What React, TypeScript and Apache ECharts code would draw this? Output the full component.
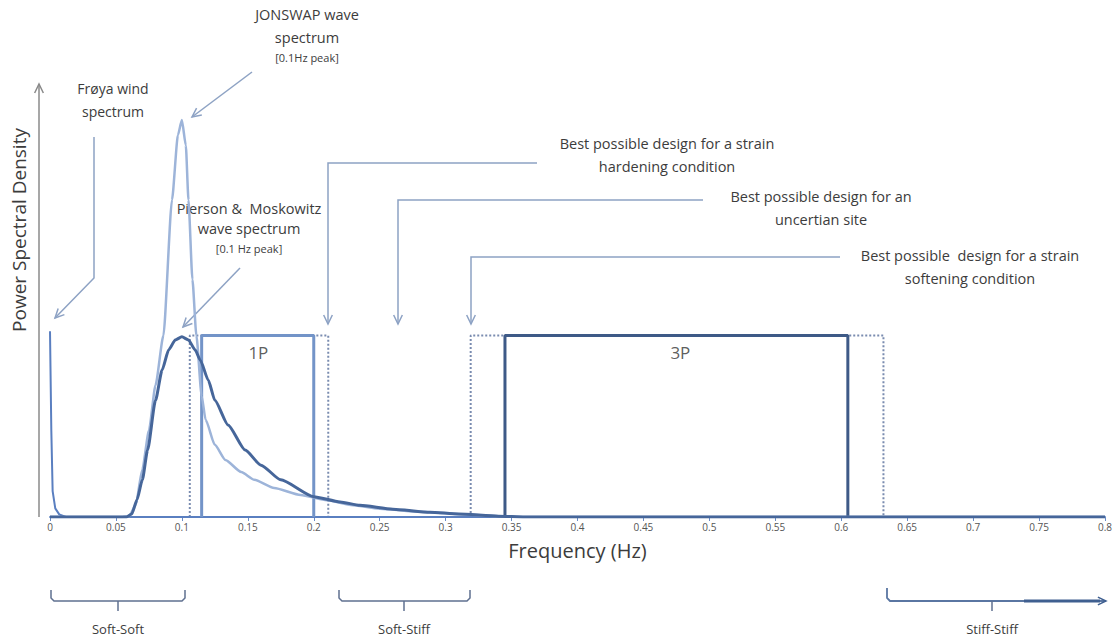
import React, { useEffect, useRef } from "react";
import * as echarts from "echarts";

// ---- data (frequency in Hz, PSD in arbitrary normalised units) ----
const froyaWind: [number, number][] = [
  [0, 0.43], [0.001, 0.2], [0.002, 0.06], [0.004, 0.02], [0.007, 0.006], [0.012, 0], [0.8, 0],
];
const jonswap: [number, number][] = [
  [0, 0], [0.055, 0], [0.06, 0.002], [0.065, 0.028], [0.07, 0.11], [0.075, 0.2], [0.08, 0.305],
  [0.086, 0.42], [0.0925, 0.734], [0.097, 0.884], [0.1, 0.919], [0.103, 0.86], [0.105, 0.734],
  [0.108, 0.55], [0.111, 0.42], [0.115, 0.28], [0.118, 0.225], [0.125, 0.167], [0.133, 0.132],
  [0.145, 0.104], [0.155, 0.086], [0.17, 0.067], [0.19, 0.051], [0.21, 0.039], [0.228, 0.028],
  [0.25, 0.019], [0.28, 0.012], [0.32, 0.005], [0.34, 0.002], [0.36, 0], [0.8, 0],
];
const piersonMoskowitz: [number, number][] = [
  [0, 0], [0.058, 0], [0.062, 0.007], [0.066, 0.04], [0.07, 0.086], [0.074, 0.155], [0.08, 0.27],
  [0.085, 0.34], [0.09, 0.387], [0.095, 0.41], [0.1, 0.417], [0.105, 0.41], [0.11, 0.387],
  [0.114, 0.363], [0.12, 0.317], [0.125, 0.27], [0.135, 0.213], [0.148, 0.155], [0.16, 0.12],
  [0.175, 0.086], [0.2, 0.047], [0.22, 0.035], [0.235, 0.027], [0.26, 0.018], [0.288, 0.011],
  [0.31, 0.007], [0.34, 0.002], [0.36, 0], [0.8, 0],
];
const box1P: [number, number][] = [[0.115, 0], [0.115, 0.42], [0.2, 0.42], [0.2, 0]];
const box1PRange: [number, number][] = [[0.106, 0], [0.106, 0.42], [0.211, 0.42], [0.211, 0]];
const box3P: [number, number][] = [[0.345, 0], [0.345, 0.42], [0.605, 0.42], [0.605, 0]];
const box3PRange: [number, number][] = [[0.319, 0], [0.319, 0.42], [0.632, 0.42], [0.632, 0]];
const bandLabels: { name: string; at: [number, number] }[] = [
  { name: "1P", at: [0.158, 0.38] },
  { name: "3P", at: [0.478, 0.38] },
];

const FONT = "'Open Sans', Lato, sans-serif";
const TXT = "#3c3c3c";
const ARW = "#8da2c4";

function head(x1: number, y1: number, x2: number, y2: number, color: string, len = 10) {
  const a = Math.atan2(y2 - y1, x2 - x1);
  const s = 0.45;
  const p1 = [x2 - len * Math.cos(a - s), y2 - len * Math.sin(a - s)];
  const p2 = [x2 - len * Math.cos(a + s), y2 - len * Math.sin(a + s)];
  return {
    type: "polyline",
    shape: { points: [p1, [x2, y2], p2] },
    style: { stroke: color, lineWidth: 1.5, fill: null },
    silent: true,
  };
}
function arrowPath(pts: number[][], color: string, lw = 1.5) {
  const n = pts.length;
  return [
    { type: "polyline", shape: { points: pts }, style: { stroke: color, lineWidth: lw, fill: null }, silent: true },
    head(pts[n - 2][0], pts[n - 2][1], pts[n - 1][0], pts[n - 1][1], color),
  ];
}
function txt(s: string, x: number, y: number, size: number, color = TXT, rot = 0) {
  return {
    type: "text",
    x,
    y,
    rotation: rot,
    silent: true,
    style: {
      text: s,
      fill: color,
      fontSize: size,
      fontFamily: FONT,
      textAlign: "center",
      textVerticalAlign: "middle",
      align: "center",
      verticalAlign: "middle",
    },
  };
}
function bracket(x1: number, x2: number, xc: number, color: string) {
  return [
    {
      type: "polyline",
      shape: { points: [[x1, 590], [x1, 598], [x1 + 3, 601], [x2 - 3, 601], [x2, 598], [x2, 590]] },
      style: { stroke: color, lineWidth: 1.5, fill: null },
      silent: true,
    },
    { type: "line", shape: { x1: xc, y1: 601, x2: xc, y2: 611 }, style: { stroke: color, lineWidth: 1.5 }, silent: true },
  ];
}

export default function App() {
  const ref = useRef<HTMLDivElement>(null);
  useEffect(() => {
    if (!ref.current) return;
    const chart = echarts.init(ref.current, undefined, { renderer: "svg" });
    const bc = "#5f7090";
    const graphics: any[] = [
      // y axis arrow
      ...arrowPath([[39, 517], [39, 84]], "#8a8a8a", 1.5),
      txt("Power Spectral Density", 19, 230, 19, "#3c3c3c", Math.PI / 2),
      // Frøya
      txt("Frøya wind", 113, 88, 14),
      txt("spectrum", 113, 111, 14),
      ...arrowPath([[94, 137], [94, 278], [55, 318]], ARW),
      // JONSWAP
      txt("JONSWAP wave", 307, 14, 14.5),
      txt("spectrum", 307, 37, 14.5),
      txt("[0.1Hz peak]", 307, 57, 11),
      ...arrowPath([[252, 72], [192, 117]], ARW),
      // Pierson-Moskowitz
      txt("Pierson &  Moskowitz", 249, 208, 14.5),
      txt("wave spectrum", 249, 228, 14.5),
      txt("[0.1 Hz peak]", 249, 248, 11),
      ...arrowPath([[240, 268], [183, 327]], ARW),
      // design arrows
      ...arrowPath([[537, 163], [328, 163], [328, 324]], ARW),
      ...arrowPath([[703, 200], [398, 200], [398, 324]], ARW),
      ...arrowPath([[840, 257], [471, 257], [471, 324]], ARW),
      txt("Best possible design for a strain", 667, 143, 14.5),
      txt("hardening condition", 667, 166, 14.5),
      txt("Best possible design for an", 821, 196, 14.5),
      txt("uncertian site", 821, 219, 14.5),
      txt("Best possible  design for a strain", 970, 255, 14.5),
      txt("softening condition", 970, 278, 14.5),
      // brackets
      ...bracket(51, 185, 118, bc),
      txt("Soft-Soft", 118, 629, 13),
      ...bracket(339, 470, 404, bc),
      txt("Soft-Stiff", 404, 629, 13),
      {
        type: "polyline",
        shape: { points: [[887, 588], [887, 598], [890, 601], [1106, 601]] },
        style: { stroke: "#5a76a2", lineWidth: 1.8, fill: null },
        silent: true,
      },
      { type: "line", shape: { x1: 1024, y1: 601, x2: 1100, y2: 601 }, style: { stroke: "#3f5f90", lineWidth: 3 }, silent: true },
      head(1090, 601, 1106, 601, "#3f5f90", 9),
      { type: "line", shape: { x1: 992, y1: 601, x2: 992, y2: 611 }, style: { stroke: bc, lineWidth: 1.5 }, silent: true },
      txt("Stiff-Stiff", 992, 629, 13),
    ];

    chart.setOption({
      animation: false,
      backgroundColor: "#ffffff",
      grid: { left: 50, right: 13, top: 85, bottom: 123 },
      xAxis: {
        type: "value",
        min: 0,
        max: 0.8,
        interval: 0.05,
        name: "Frequency (Hz)",
        nameLocation: "middle",
        nameGap: 23,
        nameTextStyle: { fontSize: 20, color: "#3c3c3c", fontFamily: FONT },
        axisLine: { show: true, lineStyle: { color: "#6a8cc6", width: 2 } },
        axisTick: { show: true, length: 4, lineStyle: { color: "#6a8cc6", width: 1 } },
        axisLabel: {
          fontSize: 10,
          color: "#555555",
          fontFamily: FONT,
          margin: 5,
          formatter: (v: number) => String(+v.toFixed(2)),
        },
        splitLine: { show: false },
      },
      yAxis: {
        type: "value",
        min: 0,
        max: 1,
        show: false,
        splitLine: { show: false },
      },
      series: [
        {
          name: "Frøya wind spectrum",
          type: "line",
          data: froyaWind,
          showSymbol: false,
          lineStyle: { color: "#5a7fc0", width: 2 },
          z: 3,
        },
        {
          name: "1P range",
          type: "line",
          data: box1PRange,
          showSymbol: false,
          lineStyle: { color: "#7a8cb0", width: 2, type: "dotted" },
          z: 2,
        },
        {
          name: "3P range",
          type: "line",
          data: box3PRange,
          showSymbol: false,
          lineStyle: { color: "#7a8cb0", width: 2, type: "dotted" },
          z: 2,
        },
        {
          name: "1P",
          type: "line",
          data: box1P,
          showSymbol: false,
          lineStyle: { color: "#7394c8", width: 3 },
          z: 3,
        },
        {
          name: "3P",
          type: "line",
          data: box3P,
          showSymbol: false,
          lineStyle: { color: "#3e5a87", width: 3 },
          z: 3,
        },
        {
          name: "JONSWAP",
          type: "line",
          data: jonswap,
          showSymbol: false,
          smooth: 0.2,
          smoothMonotone: "x",
          lineStyle: { color: "#9db4d9", width: 2.5 },
          z: 4,
        },
        {
          name: "Pierson & Moskowitz",
          type: "line",
          data: piersonMoskowitz,
          showSymbol: false,
          smooth: 0.2,
          smoothMonotone: "x",
          lineStyle: { color: "#46669a", width: 3 },
          z: 5,
        },
        {
          name: "bands",
          type: "scatter",
          data: bandLabels.map((b) => ({ value: b.at, name: b.name })),
          symbolSize: 0,
          label: {
            show: true,
            position: "inside",
            formatter: (p: any) => p.name,
            fontSize: 17,
            color: "#333333",
            fontFamily: FONT,
          },
          z: 6,
        },
      ],
      graphic: { elements: graphics },
    });
    return () => chart.dispose();
  }, []);
  return (
    <div
      ref={ref}
      style={{ position: "fixed", left: 0, top: 0, width: 1118, height: 640, background: "#fff" }}
    />
  );
}
